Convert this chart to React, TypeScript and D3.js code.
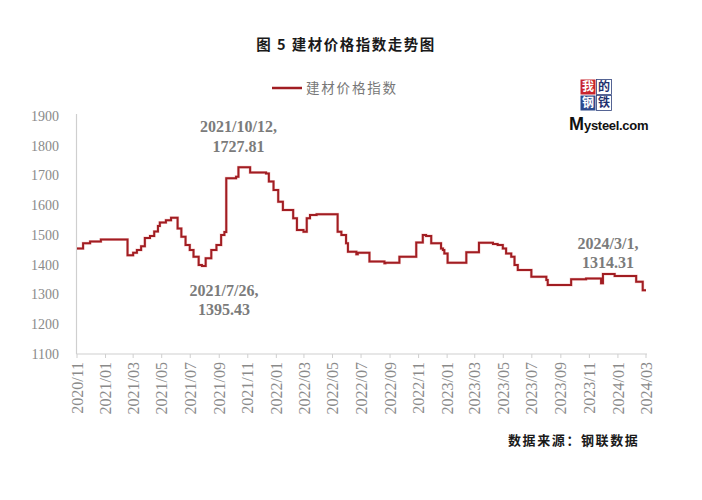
import React from "react";
import * as d3 from "d3";

const seriesName = "建材价格指数";
const title = "图 5  建材价格指数走势图";
const source = "数据来源：钢联数据";

const dates: string[] = [
  "2020-11-01", "2020-11-14", "2020-11-29", "2020-12-22", "2021-02-17", "2021-03-01",
  "2021-03-09", "2021-03-18", "2021-03-26", "2021-04-06", "2021-04-15", "2021-04-23",
  "2021-04-27", "2021-05-10", "2021-05-21", "2021-06-04", "2021-06-12", "2021-06-21",
  "2021-06-30", "2021-07-08", "2021-07-19", "2021-07-26", "2021-08-03", "2021-08-15",
  "2021-08-26", "2021-09-05", "2021-09-12", "2021-09-16", "2021-10-07", "2021-10-12",
  "2021-11-06", "2021-12-10", "2021-12-16", "2021-12-26", "2022-01-05", "2022-01-15",
  "2022-02-06", "2022-02-14", "2022-02-28", "2022-03-07", "2022-03-14", "2022-03-28",
  "2022-05-05", "2022-05-12", "2022-05-20", "2022-05-30", "2022-06-03", "2022-06-21",
  "2022-06-24", "2022-07-19", "2022-08-20", "2022-08-22", "2022-09-21", "2022-10-27",
  "2022-11-10", "2022-11-17", "2022-11-28", "2022-12-19", "2022-12-23", "2022-12-26",
  "2023-01-02", "2023-02-11", "2023-03-10", "2023-04-09", "2023-04-19", "2023-04-30",
  "2023-05-07", "2023-05-18", "2023-05-25", "2023-06-01", "2023-06-30", "2023-08-01",
  "2023-08-04", "2023-09-23", "2023-10-25", "2023-11-26", "2023-11-30", "2023-12-25",
  "2024-02-09", "2024-02-23", "2024-03-01",
];

const values: number[] = [
  1455, 1472, 1478, 1485, 1432, 1440,
  1450, 1462, 1490, 1497, 1512, 1530,
  1542, 1550, 1558, 1522, 1494, 1466,
  1450, 1427, 1399, 1395.43, 1422, 1450,
  1466, 1500, 1510, 1691, 1696, 1727.81,
  1710, 1707, 1680, 1651, 1612, 1584,
  1556, 1517, 1511, 1556, 1567, 1570,
  1570, 1511, 1500, 1472, 1444, 1435,
  1440, 1411, 1405, 1407, 1427, 1475,
  1500, 1497, 1472, 1455, 1450, 1438,
  1407, 1442, 1474, 1470, 1466, 1455,
  1438, 1427, 1399, 1382, 1360, 1349,
  1332, 1351, 1354, 1338, 1369, 1362,
  1343, 1314.31, 1314.31,
];

const yTicks: number[] = [1100, 1200, 1300, 1400, 1500, 1600, 1700, 1800, 1900];
const xTickDates: string[] = [
  "2020-11-01", "2021-01-01", "2021-03-01", "2021-05-01", "2021-07-01", "2021-09-01",
  "2021-11-01", "2022-01-01", "2022-03-01", "2022-05-01", "2022-07-01", "2022-09-01",
  "2022-11-01", "2023-01-01", "2023-03-01", "2023-05-01", "2023-07-01", "2023-09-01",
  "2023-11-01", "2024-01-01", "2024-03-01",
];

const annotationDates: string[] = ["2021-10-12", "2021-07-26", "2024-03-01"];
const annotationLabels: string[] = ["2021/10/12,", "2021/7/26,", "2024/3/1,"];
const annotationValues: string[] = ["1727.81", "1395.43", "1314.31"];

const logoChars: string[] = ["我", "的", "钢", "铁"];

const parse = d3.timeParse("%Y-%m-%d");
const fmt = d3.timeFormat("%Y/%m");

export default function App() {
  const W = 702, H = 500;
  const left = 76.5, right = 646, top = 116, bottom = 354;
  const x = d3.scaleTime()
    .domain([parse("2020-11-01") as Date, parse("2024-03-01") as Date])
    .range([left + 0.5, right]);
  const y = d3.scaleLinear().domain([1100, 1900]).range([bottom, top]);

  const pts = dates.map((d, i) => ({ d: parse(d) as Date, v: values[i] }));
  const line = d3.line<{ d: Date; v: number }>()
    .x((p) => x(p.d))
    .y((p) => y(p.v))
    .curve(d3.curveStepAfter);
  const path = line(pts) || "";

  const serif = "'Liberation Serif', 'DejaVu Serif', serif";
  const cjk = "'Noto Sans CJK SC', sans-serif";
  const gray = "#8a8a8a";
  const annColor = "#7b7b7b";
  const red = "#a11d22";

  const annPos = [
    { dx: 0, ly: 126, vy: 146 },
    { dx: 22, ly: 290, vy: 309 },
    { dx: -38, ly: 243, vy: 262 },
  ];

  const logoStyle = [
    { bg: "#c8252d", fg: "#fff" },
    { bg: "#fff", fg: "#1f3170" },
    { bg: "#2c4a8c", fg: "#fff" },
    { bg: "#fff", fg: "#1f3170" },
  ];
  const box = 16;

  return (
    <svg width={W} height={H} style={{ position: "absolute", left: 0, top: 0, background: "#fff" }}>
      <rect x={0} y={0} width={W} height={H} fill="#fff" />
      <text x={346} y={50} textAnchor="middle" fontFamily={cjk} fontWeight={700} fontSize={14.5} letterSpacing={1.5} fill="#1a1a1a">
        {title}
      </text>

      {/* legend */}
      <line x1={272} x2={302} y1={88} y2={88} stroke={red} strokeWidth={2.5} />
      <text x={306} y={93} fontFamily={cjk} fontSize={13.5} letterSpacing={1.8} fill="#777">
        {seriesName}
      </text>

      {/* logo */}
      <g>
        {logoChars.map((c, i) => {
          const bx = 580 + (i % 2) * box;
          const by = 79 + Math.floor(i / 2) * box;
          return (
            <g key={c}>
              <rect x={bx + 0.5} y={by + 0.5} width={box - 1} height={box - 1} fill={logoStyle[i].bg}
                stroke={logoStyle[i].bg === "#fff" ? "#2c3f7a" : "none"} strokeWidth={0.8} />
              <text x={bx + box / 2} y={by + box / 2} dy="0.36em" textAnchor="middle" fontFamily={cjk}
                fontWeight={700} fontSize={12} fill={logoStyle[i].fg}>{c}</text>
            </g>
          );
        })}
        <text x={569} y={130} fontFamily="'Liberation Sans', Arial, sans-serif" fill="#111">
          <tspan fontSize={18} fontWeight={700}>M</tspan>
          <tspan fontSize={13} fontWeight={700} letterSpacing={-0.3}>ysteel.com</tspan>
        </text>
      </g>

      {/* y axis */}
      <line x1={left} x2={left} y1={top - 2} y2={bottom} stroke="#cfcfcf" strokeWidth={1.2} />
      {yTicks.map((t) => (
        <text key={t} x={59} y={y(t)} dy="0.35em" textAnchor="end" fontFamily={serif} fontSize={14} fill={gray}>
          {t}
        </text>
      ))}

      {/* x axis */}
      <line x1={left} x2={right + 1} y1={bottom} y2={bottom} stroke="#cfcfcf" strokeWidth={1.2} />
      {xTickDates.map((s) => {
        const d = parse(s) as Date;
        const xx = x(d);
        return (
          <g key={s}>
            <line x1={xx} x2={xx} y1={bottom} y2={bottom + 4} stroke="#cfcfcf" strokeWidth={1} />
            <text
              transform={`translate(${xx},${bottom + 8}) rotate(-90)`}
              dy="0.35em"
              textAnchor="end"
              fontFamily={serif}
              fontSize={16}
              fill={gray}
            >
              {fmt(d)}
            </text>
          </g>
        );
      })}

      {/* line */}
      <path d={path} fill="none" stroke="#e06a6a" strokeWidth={3} strokeOpacity={0.35} strokeLinejoin="miter" />
      <path d={path} fill="none" stroke={red} strokeWidth={2} strokeLinejoin="miter" />

      {/* annotations */}
      {annotationDates.map((s, i) => {
        const xx = x(parse(s) as Date) + annPos[i].dx;
        return (
          <g key={s}>
            <text x={xx} y={annPos[i].ly} dy="0.35em" textAnchor="middle" fontFamily={serif} fontWeight={700} fontSize={16} fill={annColor}>
              {annotationLabels[i]}
            </text>
            <text x={xx} y={annPos[i].vy} dy="0.35em" textAnchor="middle" fontFamily={serif} fontWeight={700} fontSize={16} fill={annColor}>
              {annotationValues[i]}
            </text>
          </g>
        );
      })}

      <text x={508} y={445} fontFamily={cjk} fontWeight={700} fontSize={13} letterSpacing={1.6} fill="#1a1a1a">
        {source}
      </text>
    </svg>
  );
}
